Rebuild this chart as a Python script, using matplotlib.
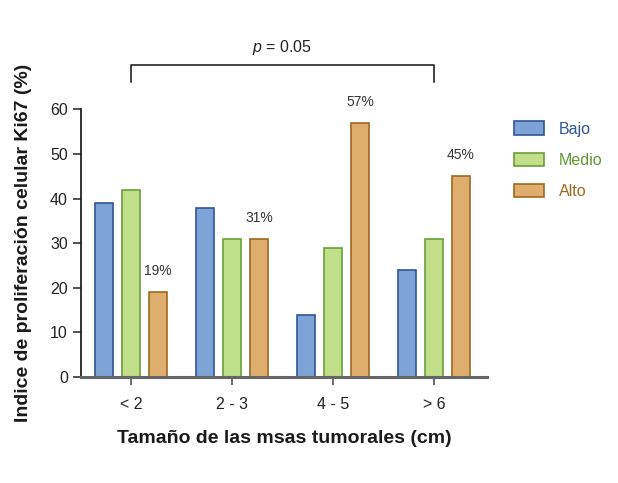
import matplotlib
matplotlib.use("Agg")
import matplotlib.pyplot as plt
import numpy as np
from matplotlib.patches import Patch

# Datos
categorias = ["< 2", "2 - 3", "4 - 5", "> 6"]
bajo = [39, 38, 14, 24]
medio = [42, 31, 29, 31]
alto = [19, 31, 57, 45]
etiquetas_alto = ["19%", "31%", "57%", "45%"]
series = ["Bajo", "Medio", "Alto"]

plt.rcParams["font.family"] = ["Liberation Sans", "DejaVu Sans"]
plt.rcParams["mathtext.fontset"] = "custom"
plt.rcParams["mathtext.it"] = "Liberation Sans:italic"
plt.rcParams["mathtext.rm"] = "Liberation Sans"

relleno = ["#7ea3d6", "#c0df88", "#deae6e"]
borde = ["#2f5597", "#6aa13a", "#a0681f"]
texto_leyenda = ["#2f5597", "#5e9a2e", "#a0681f"]

fig = plt.figure(figsize=(6.18, 4.83), dpi=100)
ax = fig.add_axes([0.131, 0.2195, 0.657, 0.554])

x = np.arange(len(categorias))
ancho = 0.178
desp = 0.267
for i, valores in enumerate([bajo, medio, alto]):
    ax.bar(x + (i - 1) * desp, valores, ancho, color=relleno[i],
           edgecolor=borde[i], linewidth=1.2, zorder=2)

# etiquetas de porcentaje sobre las barras "Alto"
for xi, v, et in zip(x, alto, etiquetas_alto):
    ax.annotate(et, (xi + desp, v), xytext=(0, 15), textcoords="offset points",
                ha="center", va="center", fontsize=10, color="#333333")

ax.set_xlim(-0.495, 3.525)
ax.set_ylim(0, 60)
ax.set_yticks([0, 10, 20, 30, 40, 50, 60])
ax.set_xticks(x)
ax.set_xticklabels(categorias)

for s in ["top", "right"]:
    ax.spines[s].set_visible(False)
ax.spines["left"].set_linewidth(1.3)
ax.spines["left"].set_color("#222222")
ax.spines["bottom"].set_linewidth(2.2)
ax.spines["bottom"].set_color("#666666")

ax.tick_params(axis="y", length=6, width=1.1, pad=3.5, labelsize=11.5,
               colors="#222222")
ax.tick_params(axis="x", length=5.5, width=1.1, pad=9, labelsize=11.5,
               colors="#222222")
ax.tick_params(axis="x", color="#444444")

ax.set_xlabel("Tamaño de las msas tumorales (cm)", fontsize=14,
              fontweight="bold", color="#1a1a1a", labelpad=13)
ax.set_ylabel("Indice de proliferación celular Ki67 (%)", fontsize=14,
              fontweight="bold", color="#1a1a1a", labelpad=13)

# corchete de significación
ax.plot([0, 0, 3, 3], [66.1, 70, 70, 66.1], color="#111111", lw=1.1,
        clip_on=False)
ax.text(1.5, 73.8, r"$p$ = 0.05", ha="center", va="center", fontsize=11.5,
        color="#222222")

manejadores = [Patch(facecolor=relleno[i], edgecolor=borde[i], linewidth=1.2)
               for i in range(3)]
ley = fig.legend(manejadores, series, loc="upper left",
                 bbox_to_anchor=(0.818, 0.765), frameon=False, fontsize=11.5,
                 handlelength=1.9, handleheight=0.9, handletextpad=0.95,
                 labelspacing=1.0, borderpad=0)
for t, c in zip(ley.get_texts(), texto_leyenda):
    t.set_color(c)

fig.savefig("out.png", dpi=100)
